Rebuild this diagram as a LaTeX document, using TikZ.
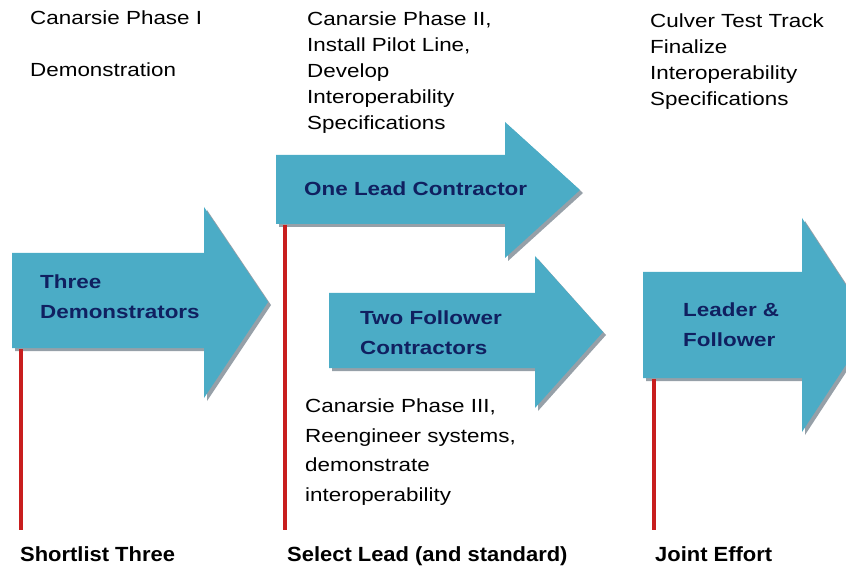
\documentclass[tikz,border=0pt]{standalone}
\usepackage{fontspec}
\setmainfont[FakeStretch=1.18]{Liberation Sans}
\newfontfamily\labelbold[FakeStretch=1.07]{Liberation Sans Bold}
\definecolor{arrowfill}{RGB}{75,172,198}
\definecolor{arrowtext}{RGB}{16,32,96}
\definecolor{shadowgray}{RGB}{150,160,168}
\definecolor{redline}{RGB}{200,30,30}
\begin{document}
\begin{tikzpicture}[x=1pt,y=-1pt,
  toptext/.style={anchor=north west,align=left,inner sep=0pt,font=\fontsize{19}{26}\selectfont},
  arrowlabel/.style={anchor=west,align=left,inner sep=0pt,text=arrowtext,font=\fontsize{19}{30}\selectfont\bfseries},
  bottomlabel/.style={anchor=base west,inner sep=0pt,font=\fontsize{20.5}{24}\selectfont\labelbold},
  stem/.style={draw=redline,line width=3.2pt},
  arrowbody/.style={fill=arrowfill},
  arrowshadow/.style={fill=shadowgray}]
\useasboundingbox (0,0) rectangle (846,569);
% arrow 1
\fill[arrowshadow,shift={(3,3)}] (12,253) -- (204,253) -- (204,207) -- (268,302) -- (204,398) -- (204,348) -- (12,348) -- cycle;
\fill[arrowbody] (12,253) -- (204,253) -- (204,207) -- (268,302) -- (204,398) -- (204,348) -- (12,348) -- cycle;
% arrow 2
\fill[arrowshadow,shift={(3,3)}] (276,155) -- (505,155) -- (505,122) -- (580,190) -- (505,258) -- (505,224) -- (276,224) -- cycle;
\fill[arrowbody] (276,155) -- (505,155) -- (505,122) -- (580,190) -- (505,258) -- (505,224) -- (276,224) -- cycle;
% arrow 3
\fill[arrowshadow,shift={(3,3)}] (329,293) -- (535,293) -- (535,256) -- (603,332) -- (535,408) -- (535,368) -- (329,368) -- cycle;
\fill[arrowbody] (329,293) -- (535,293) -- (535,256) -- (603,332) -- (535,408) -- (535,368) -- (329,368) -- cycle;
% arrow 4
\fill[arrowshadow,shift={(3,3)}] (643,272) -- (802,272) -- (802,218) -- (872,325) -- (802,432) -- (802,378) -- (643,378) -- cycle;
\fill[arrowbody] (643,272) -- (802,272) -- (802,218) -- (872,325) -- (802,432) -- (802,378) -- (643,378) -- cycle;
% arrow labels
\node[arrowlabel] (a1) at (40,297) {Three\\Demonstrators};
\node[arrowlabel] (a2) at (304,189) {One Lead Contractor};
\node[arrowlabel] (a3) at (360,333) {Two Follower\\Contractors};
\node[arrowlabel] (a4) at (683,325) {Leader \&\\Follower};
% top texts
\node[toptext] (t1) at (30,11) {Canarsie Phase I\\[26pt]Demonstration};
\node[toptext] (t2) at (307,12) {Canarsie Phase II,\\Install Pilot Line,\\Develop\\Interoperability\\Specifications};
\node[toptext] (t3) at (650,14) {Culver Test Track\\Finalize\\Interoperability\\Specifications};
\node[toptext,font=\fontsize{19}{29.5}\selectfont] (t4) at (305,399) {Canarsie Phase III,\\Reengineer systems,\\demonstrate\\interoperability};
% bottom labels
\node[bottomlabel] (b1) at (20,561) {Shortlist Three};
\node[bottomlabel] (b2) at (287,561) {Select Lead (and standard)};
\node[bottomlabel] (b3) at (655,561) {Joint Effort};
% stems
\coordinate (s1a) at (21,349); \coordinate (s1b) at (21,530);
\coordinate (s2a) at (285,225); \coordinate (s2b) at (285,530);
\coordinate (s3a) at (654,379); \coordinate (s3b) at (654,530);
\draw[stem] (s1a) -- (s1b);
\draw[stem] (s2a) -- (s2b);
\draw[stem] (s3a) -- (s3b);
\end{tikzpicture}
\end{document}
